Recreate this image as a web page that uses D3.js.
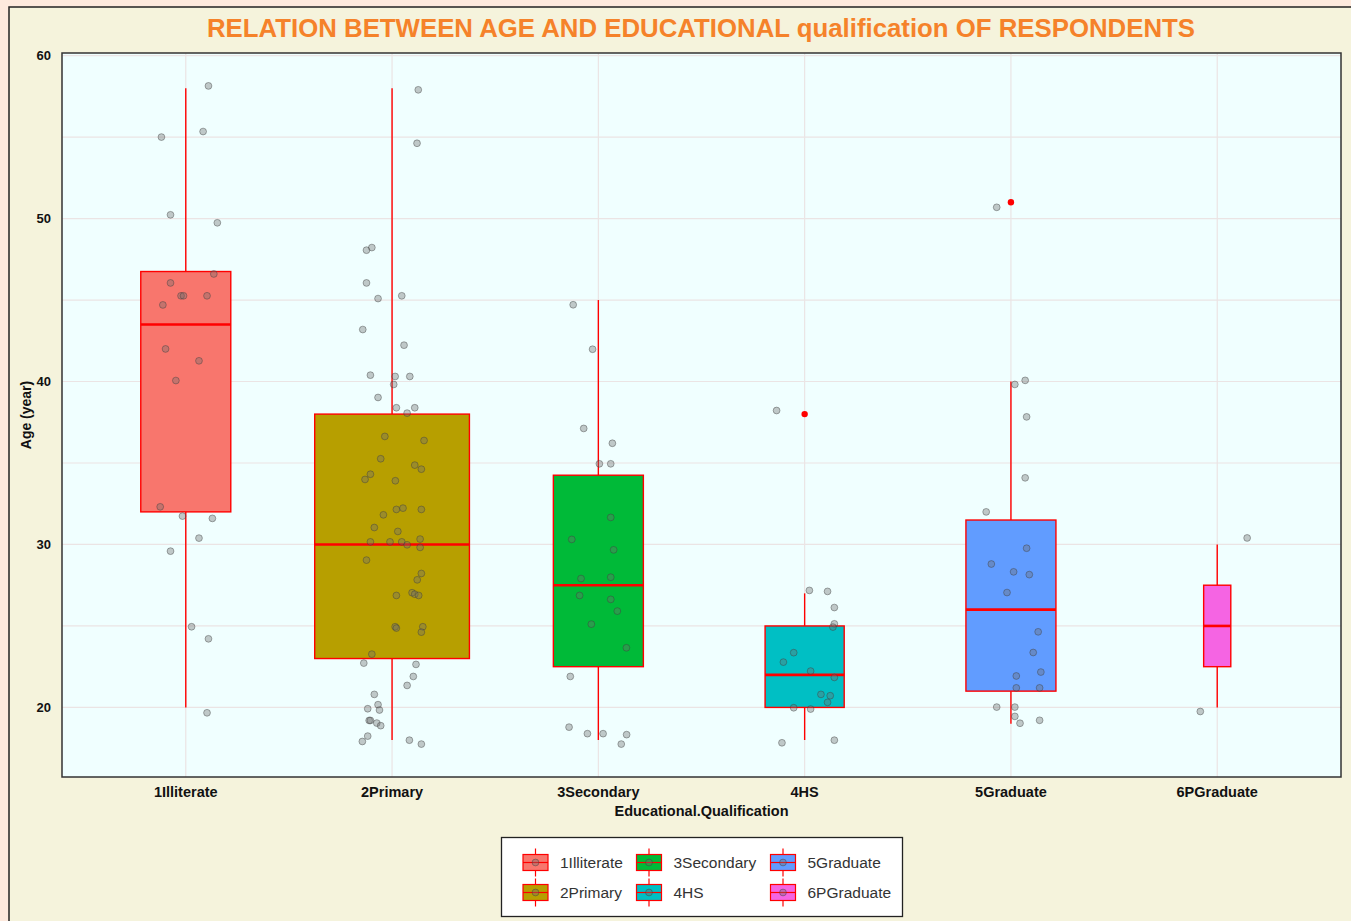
<!DOCTYPE html>
<html>
<head>
<meta charset="utf-8">
<script src="https://cdn.jsdelivr.net/npm/d3@7"></script>
<style>
  html, body { margin: 0; padding: 0; background: #fde9dd; }
  svg { display: block; }
  text { font-family: "Liberation Sans", Arial, sans-serif; }
</style>
</head>
<body>
<svg id="chart" width="1351" height="921"></svg>
<script>
// Education groups shown on the x axis
const categories = ["1Illiterate", "2Primary", "3Secondary", "4HS", "5Graduate", "6PGraduate"];
const fills = ["#F8766D", "#B79F00", "#00BA38", "#00BFC4", "#619CFF", "#F564E3"];

// Five-number summaries per group: [lower whisker, Q1, median, Q3, upper whisker]
const boxStats = [
  [20, 32, 43.5, 46.75, 58],
  [18, 23, 30, 38, 58],
  [18, 22.5, 27.5, 34.25, 45],
  [18, 20, 22, 25, 27],
  [19, 21, 26, 31.5, 40],
  [20, 22.5, 25, 27.5, 30]
];

// Outliers per group
const outliers = [[], [], [], [38], [51], []];

// Jittered respondents per group: [horizontal jitter (fraction of group spacing), age]
const ptsIlliterate = [
  [0.11, 58.14], [-0.118, 55.0], [0.084, 55.34], [-0.074, 50.23], [0.153, 49.74],
  [0.136, 46.6], [-0.074, 46.05], [-0.023, 45.26], [-0.011, 45.26], [0.103, 45.26],
  [-0.111, 44.7], [-0.098, 42.0], [0.064, 41.27], [-0.048, 40.06], [-0.124, 32.31],
  [-0.016, 31.74], [0.129, 31.6], [0.064, 30.39], [-0.074, 29.59], [0.028, 24.95],
  [0.11, 24.21], [0.103, 19.67]
];
const ptsPrimary = [
  [0.127, 57.9], [0.121, 54.62], [-0.124, 48.06], [-0.098, 48.22], [-0.124, 46.05],
  [-0.068, 45.09], [0.047, 45.26], [-0.142, 43.19], [0.058, 42.23], [-0.105, 40.39],
  [0.015, 40.31], [0.086, 40.31], [0.008, 39.82], [-0.068, 39.02], [0.021, 38.39],
  [0.073, 38.06], [0.11, 38.39], [-0.035, 36.63], [0.155, 36.38], [-0.055, 35.26],
  [0.11, 34.87], [0.142, 34.62], [-0.105, 34.31], [-0.131, 33.99], [0.016, 33.91],
  [-0.042, 31.82], [0.021, 32.15], [0.053, 32.23], [0.142, 32.15], [-0.086, 31.04],
  [0.028, 30.8], [-0.105, 30.16], [-0.01, 30.16], [0.047, 30.16], [0.073, 29.98],
  [0.136, 30.33], [0.136, 29.82], [-0.124, 29.04], [0.142, 28.22], [0.122, 27.83],
  [0.097, 27.04], [0.11, 26.95], [0.129, 26.87], [0.021, 26.87], [0.015, 24.95],
  [0.021, 24.87], [0.149, 24.95], [0.142, 24.62], [-0.098, 23.27], [-0.137, 22.72],
  [0.116, 22.64], [0.103, 21.9], [0.073, 21.35], [-0.086, 20.8], [-0.118, 19.92],
  [-0.068, 20.17], [-0.061, 19.84], [-0.111, 19.2], [-0.105, 19.2], [-0.074, 19.04],
  [-0.055, 18.88], [-0.118, 18.24], [-0.144, 17.91], [0.084, 17.99], [0.142, 17.75]
];
const ptsSecondary = [
  [-0.122, 44.71], [-0.028, 41.98], [-0.071, 37.12], [0.068, 36.21], [0.005, 34.95],
  [0.06, 34.95], [0.06, 31.66], [-0.129, 30.31], [0.074, 29.67], [-0.084, 27.91],
  [0.06, 27.99], [-0.091, 26.87], [0.06, 26.63], [0.092, 25.91], [-0.034, 25.11],
  [0.136, 23.66], [-0.136, 21.9], [-0.142, 18.79], [-0.053, 18.39], [0.023, 18.39],
  [0.137, 18.33], [0.111, 17.75]
];
const ptsHS = [
  [-0.136, 38.22], [0.023, 27.18], [0.111, 27.12], [0.144, 26.13], [0.144, 25.13],
  [0.137, 24.93], [-0.053, 23.36], [-0.103, 22.78], [0.029, 22.23], [0.144, 21.84],
  [0.079, 20.8], [0.124, 20.72], [0.111, 20.31], [-0.053, 19.98], [0.029, 19.9],
  [-0.11, 17.83], [0.144, 17.99]
];
const ptsGraduate = [
  [-0.069, 50.69], [0.069, 40.07], [0.019, 39.82], [0.076, 37.83], [0.069, 34.09],
  [-0.12, 32.0], [0.076, 29.77], [-0.095, 28.8], [0.013, 28.32], [0.089, 28.15],
  [-0.019, 27.05], [0.132, 24.64], [0.108, 23.37], [0.026, 21.93], [0.145, 22.17],
  [0.026, 21.2], [0.139, 21.2], [-0.069, 20.02], [0.019, 20.02], [0.019, 19.45],
  [0.044, 19.03], [0.139, 19.21]
];
const ptsPGraduate = [
  [0.145, 30.4], [-0.082, 19.75]
];
const points = [ptsIlliterate, ptsPrimary, ptsSecondary, ptsHS, ptsGraduate, ptsPGraduate];

const yTicks = [20, 30, 40, 50, 60];
const yGrid = [20, 25, 30, 35, 40, 45, 50, 55, 60];

const titleText = "RELATION BETWEEN AGE AND EDUCATIONAL qualification OF RESPONDENTS";
const xTitle = "Educational.Qualification";
const yTitle = "Age (year)";

// ---- layout ----
const svg = d3.select("#chart");
const panel = { left: 62, top: 53, right: 1341, bottom: 777 };

// outer frame
svg.append("rect").attr("x", 9).attr("y", 7).attr("width", 1400).attr("height", 1000)
  .attr("fill", "#f5f3dc").attr("stroke", "#222").attr("stroke-width", 1.5);

// scales
const x = d3.scalePoint().domain(categories).range([panel.left, panel.right]).padding(0.6);
const step = x.step();
const allAges = points.flat().map(d => d[1]).concat(boxStats.flat(), outliers.flat());
const [lo, hi] = d3.extent(allAges);
const pad = (hi - lo) * 0.05;
const y = d3.scaleLinear().domain([lo - pad, hi + pad]).range([panel.bottom, panel.top]);

// panel background
svg.append("rect").attr("x", panel.left).attr("y", panel.top)
  .attr("width", panel.right - panel.left).attr("height", panel.bottom - panel.top)
  .attr("fill", "#f0ffff");

// grid
const grid = svg.append("g");
grid.selectAll("line.h").data(yGrid).join("line")
  .attr("x1", panel.left).attr("x2", panel.right)
  .attr("y1", d => y(d)).attr("y2", d => y(d))
  .attr("stroke", "#ebe4e4").attr("stroke-width", 1.2);
grid.selectAll("line.v").data(categories).join("line")
  .attr("y1", panel.top).attr("y2", panel.bottom)
  .attr("x1", d => x(d)).attr("x2", d => x(d))
  .attr("stroke", "#ebe4e4").attr("stroke-width", 1.2);

// boxes
const nMax = d3.max(points, p => p.length);
const boxW = i => 0.75 * step * Math.sqrt(points[i].length / nMax);

const boxes = svg.append("g").selectAll("g").data(categories).join("g");
boxes.each(function(c, i) {
  const g = d3.select(this);
  const s = boxStats[i];
  const cx = x(c), w = boxW(i);
  g.append("line").attr("x1", cx).attr("x2", cx).attr("y1", y(s[3])).attr("y2", y(s[4]))
    .attr("stroke", "#ff0000").attr("stroke-width", 1.4);
  g.append("line").attr("x1", cx).attr("x2", cx).attr("y1", y(s[1])).attr("y2", y(s[0]))
    .attr("stroke", "#ff0000").attr("stroke-width", 1.4);
  g.append("rect").attr("x", cx - w / 2).attr("y", y(s[3]))
    .attr("width", w).attr("height", y(s[1]) - y(s[3]))
    .attr("fill", fills[i]).attr("stroke", "#ff0000").attr("stroke-width", 1.4);
  g.append("line").attr("x1", cx - w / 2).attr("x2", cx + w / 2)
    .attr("y1", y(s[2])).attr("y2", y(s[2]))
    .attr("stroke", "#ff0000").attr("stroke-width", 2.6);
  g.selectAll("circle.out").data(outliers[i]).join("circle")
    .attr("cx", cx).attr("cy", d => y(d)).attr("r", 3.2).attr("fill", "#ff0000");
});

// jittered points
const jit = svg.append("g");
categories.forEach((c, i) => {
  jit.selectAll(null).data(points[i]).join("circle")
    .attr("cx", d => x(c) + d[0] * step)
    .attr("cy", d => y(d[1]))
    .attr("r", 3.4)
    .attr("fill", "rgba(110,110,110,0.38)")
    .attr("stroke", "rgba(60,60,60,0.42)")
    .attr("stroke-width", 1);
});

// panel border
svg.append("rect").attr("x", panel.left).attr("y", panel.top)
  .attr("width", panel.right - panel.left).attr("height", panel.bottom - panel.top)
  .attr("fill", "none").attr("stroke", "#333").attr("stroke-width", 1.5);

// y axis labels
svg.append("g").selectAll("text").data(yTicks).join("text")
  .attr("x", 51).attr("y", d => y(d) + 4.6)
  .attr("text-anchor", "end").attr("font-size", 13).attr("font-weight", "bold")
  .attr("fill", "#111").text(d => d);

// x axis labels
svg.append("g").selectAll("text").data(categories).join("text")
  .attr("x", d => x(d)).attr("y", 797)
  .attr("text-anchor", "middle").attr("font-size", 14.5).attr("font-weight", "bold")
  .attr("fill", "#111").text(d => d);

// axis titles
svg.append("text").attr("x", (panel.left + panel.right) / 2).attr("y", 816)
  .attr("text-anchor", "middle").attr("font-size", 14.5).attr("font-weight", "bold")
  .attr("fill", "#111").text(xTitle);
svg.append("text")
  .attr("transform", `translate(31,${(panel.top + panel.bottom) / 2}) rotate(-90)`)
  .attr("text-anchor", "middle").attr("font-size", 14).attr("font-weight", "bold")
  .attr("fill", "#111").text(yTitle);

// title
svg.append("text").attr("x", 701).attr("y", 37)
  .attr("text-anchor", "middle").attr("font-size", 25).attr("font-weight", "bold")
  .attr("fill", "#f5822a")
  .attr("textLength", 988).attr("lengthAdjust", "spacingAndGlyphs")
  .text(titleText);

// legend
const legend = svg.append("g");
legend.append("rect").attr("x", 501.5).attr("y", 837.5).attr("width", 401).attr("height", 79)
  .attr("fill", "#ffffff").attr("stroke", "#222").attr("stroke-width", 1.3);
const colX = [535.5, 649, 783];
const rowY = [862.5, 892.5];
categories.forEach((c, i) => {
  const kx = colX[Math.floor(i / 2)], ky = rowY[i % 2];
  const g = legend.append("g");
  g.append("line").attr("x1", kx).attr("x2", kx).attr("y1", ky - 14).attr("y2", ky + 14)
    .attr("stroke", "#ff0000").attr("stroke-width", 1.2);
  g.append("rect").attr("x", kx - 12.5).attr("y", ky - 8).attr("width", 25).attr("height", 16)
    .attr("fill", fills[i]).attr("stroke", "#ff0000").attr("stroke-width", 1.2);
  g.append("line").attr("x1", kx - 12.5).attr("x2", kx + 12.5).attr("y1", ky).attr("y2", ky)
    .attr("stroke", "#ff0000").attr("stroke-width", 1.2);
  g.append("circle").attr("cx", kx).attr("cy", ky).attr("r", 3.4)
    .attr("fill", "rgba(110,110,110,0.38)").attr("stroke", "rgba(60,60,60,0.42)");
  g.append("text").attr("x", kx + 24.5).attr("y", ky + 5.5)
    .attr("font-size", 15.5).attr("fill", "#333").text(c);
});
</script>
</body>
</html>
